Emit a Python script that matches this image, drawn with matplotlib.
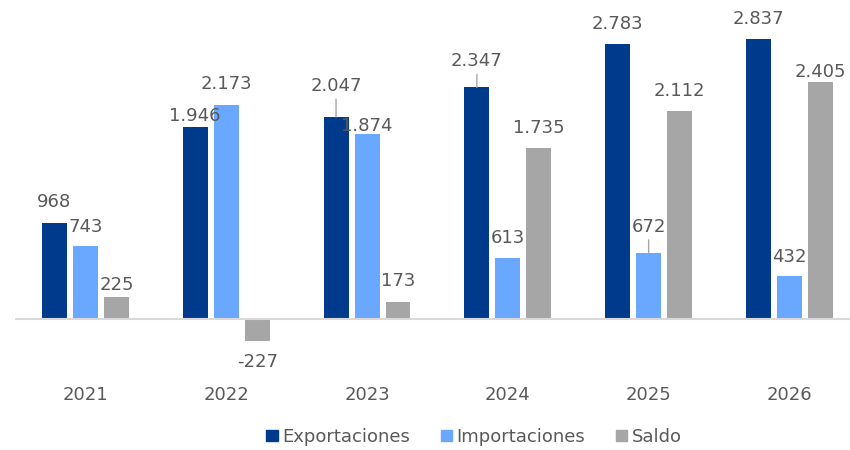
import numpy as np
import matplotlib
matplotlib.use("Agg")
import matplotlib.pyplot as plt
from matplotlib.patches import Patch

# datos
years = ["2021", "2022", "2023", "2024", "2025", "2026"]
exportaciones = [968, 1946, 2047, 2347, 2783, 2837]
importaciones = [743, 2173, 1874, 613, 672, 432]
saldo = [225, -227, 173, 1735, 2112, 2405]

names = ["Exportaciones", "Importaciones", "Saldo"]
colors = ["#003A8C", "#6AA8FF", "#A6A6A6"]
txt = "#595959"

# label baseline offset (pixels) from bar end, and which ones get a leader line
label_dy = [[16, 6, 26, 21, 15, 15],
            [14, 16, 3, 15, 21, 14],
            [7, -26, 16, 15, 15, 5]]
leader = [[False, False, True, True, False, False],
          [False, False, False, False, True, False],
          [False] * 6]

plt.rcParams["font.family"] = ["DejaVu Sans"]
fig = plt.figure(figsize=(8.5, 4.5), dpi=100)
ax = fig.add_axes([15 / 850, 101 / 450, 835 / 850, 349 / 450])

x = np.arange(len(years))
step = 0.22
width = 0.1775
series = [exportaciones, importaciones, saldo]

for k, vals in enumerate(series):
    xs = x + (k - 1) * step
    ax.bar(xs, vals, width, color=colors[k], zorder=2)
    for i, v in enumerate(vals):
        lab = f"{v:,}".replace(",", ".")
        if v >= 0:
            xy = (xs[i], v)
        else:
            xy = (xs[i], v)
        kw = {}
        if leader[k][i]:
            kw["arrowprops"] = dict(arrowstyle="-", color="#A6A6A6", lw=1,
                                    shrinkA=1, shrinkB=0)
        ax.annotate(lab, xy=xy, xytext=(0, label_dy[k][i]),
                    textcoords="offset pixels", ha="center", va="baseline",
                    fontsize=13, color=txt, zorder=4, **kw)

ax.axhline(0, color="#D9D9D9", lw=1.5, zorder=3)

ax.set_xlim(-0.5, 5.43)
ax.set_ylim(-304, 3232)
ax.set_xticks(x, years)
ax.tick_params(axis="x", length=0, pad=27, labelsize=13, labelcolor=txt)
ax.set_yticks([])
for s in ax.spines.values():
    s.set_visible(False)

handles = [Patch(color=c, label=n) for c, n in zip(colors, names)]
leg = fig.legend(handles=handles, loc="center", bbox_to_anchor=(474 / 850, 13 / 450),
                 ncol=3, frameon=False, fontsize=13, handlelength=0.62,
                 handleheight=0.62, handletextpad=0.25, columnspacing=1.7,
                 labelcolor=txt)

fig.savefig("out.png", dpi=100)
